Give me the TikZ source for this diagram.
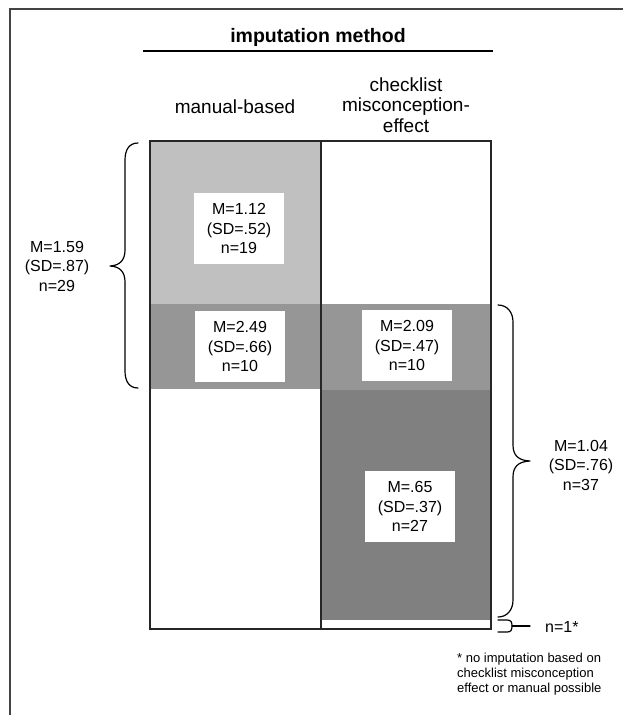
\documentclass[tikz,border=0pt]{standalone}
\usepackage{fontspec}
\setmainfont{Liberation Sans}
\definecolor{lightg}{HTML}{C0C0C0}
\definecolor{midg}{HTML}{969696}
\definecolor{darkg}{HTML}{808080}
\definecolor{framec}{HTML}{444444}
\tikzset{
  stat/.style={fill=white, align=center, font=\fontsize{16}{19.5}\selectfont, inner sep=0pt, minimum width=90pt, minimum height=71pt},
  side/.style={align=center, font=\fontsize{16}{19.5}\selectfont, inner sep=0pt},
  colhead/.style={align=center, font=\fontsize{19}{20.5}\selectfont, inner sep=0pt},
  mainhead/.style={font=\fontsize{19.5}{21}\selectfont\bfseries, inner sep=0pt},
  note/.style={align=left, font=\fontsize{13}{15}\selectfont, inner sep=0pt},
  bracestyle/.style={line width=1.2pt, line join=round, line cap=round},
  gridline/.style={line width=1.5pt, draw=black!85},
}
\begin{document}
\begin{tikzpicture}[x=1pt, y=-1pt]
\useasboundingbox (0,0) rectangle (623,715);
% frame (cropped)
\draw[line width=1.6pt, framec] (10,715) -- (10,9) -- (623,9);
% header
\node[mainhead] (hd) at (318,37) {imputation method};
\coordinate (hl) at (143,51);
\coordinate (hr) at (493,51);
\draw[line width=1.2pt] (hl) -- (hr);
\node[colhead] (c1) at (235,107) {manual-based};
\node[colhead] (c2) at (406,105) {checklist\\misconception-\\effect};
% cells
\fill[lightg] (150,141) rectangle (321,304);
\fill[midg] (150,304) rectangle (321,389);
\fill[midg] (321,304) rectangle (491,390);
\fill[darkg] (321,390) rectangle (491,620);
\draw[gridline] (150,141) rectangle (491,629);
\draw[gridline] (321,141) -- (321,629);
% stat boxes
\node[stat] (s1) at (239,228.5) {M=1.12\\(SD=.52)\\n=19};
\node[stat] (s2) at (240,346.5) {M=2.49\\(SD=.66)\\n=10};
\node[stat] (s3) at (407,345.5) {M=2.09\\(SD=.47)\\n=10};
\node[stat] (s4) at (410,506.5) {M=.65\\(SD=.37)\\n=27};
% left brace
\node[side] (lb) at (57,266) {M=1.59\\(SD=.87)\\n=29};
\coordinate (lbt) at (138,143);
\coordinate (lbb) at (138,388);
\coordinate (lbtip) at (110,266);
\draw[bracestyle] (lbt) .. controls (129,143) and (125,150) .. (125,160) -- (125,250)
  .. controls (125,260) and (120,265.5) .. (lbtip)
  .. controls (120,266.5) and (125,272) .. (125,282) -- (125,371)
  .. controls (125,381) and (129,388) .. (lbb);
% right brace
\node[side] (rb) at (581,465) {M=1.04\\(SD=.76)\\n=37};
\coordinate (rbt) at (498,305);
\coordinate (rbb) at (498,617);
\coordinate (rbtip) at (530,461);
\draw[bracestyle] (rbt) .. controls (507,305) and (513,312) .. (513,322) -- (513,445)
  .. controls (513,455) and (518,460.5) .. (rbtip)
  .. controls (518,461.5) and (513,467) .. (513,477) -- (513,600)
  .. controls (513,610) and (507,617) .. (rbb);
% small bracket n=1*
\node[side, anchor=west] (n1) at (545,627) {n=1*};
\coordinate (sbt) at (498,620);
\coordinate (sbb) at (498,632);
\coordinate (sbtip) at (530,626);
\draw[bracestyle] (sbt) -- (507,620) .. controls (511,620) and (512,622) .. (512,626)
  .. controls (512,630) and (511,632) .. (507,632) -- (sbb);
\draw[bracestyle] (512,626) -- (sbtip);
% footnote
\node[note, anchor=west] (fn) at (457,674) {* no imputation based on\\checklist misconception\\effect or manual possible};
\end{tikzpicture}
\end{document}
